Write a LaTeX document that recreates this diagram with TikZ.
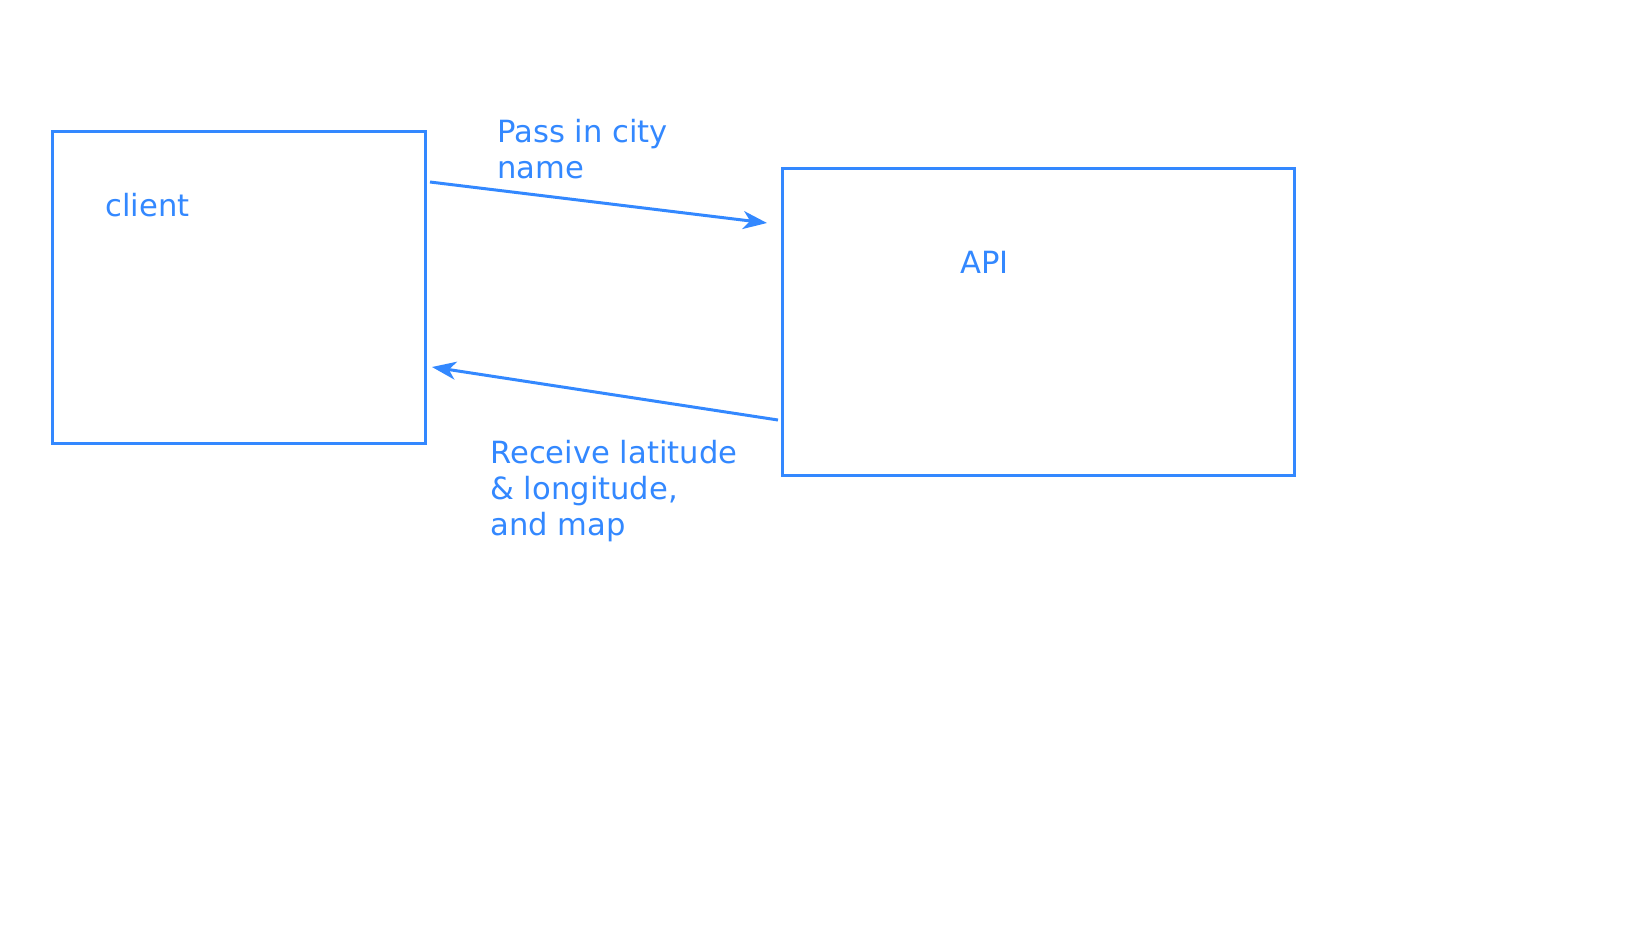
\documentclass[tikz,border=0pt]{standalone}
\usepackage{fontspec}
\setmainfont{DejaVu Sans}
\usetikzlibrary{arrows.meta}
\definecolor{blu}{RGB}{51,136,255}
\begin{document}
\begin{tikzpicture}[x=0.5pt,y=-0.5pt,
  boxstyle/.style={draw=blu,line width=1.5pt},
  lbl/.style={text=blu,font=\fontsize{15.3pt}{18pt}\selectfont,anchor=west,align=left,inner sep=0pt},
  conn/.style={draw=blu,line width=1.5pt,-{Stealth[length=12pt,width=9pt,inset=3.5pt]}}]
\useasboundingbox (0,0) rectangle (1648,927);
\draw[boxstyle] (52.6,131.4) rectangle (425.7,443.5);
\draw[boxstyle] (782,168) rectangle (1294,475);
\node[lbl] (client) at (105,205) {client};
\node[lbl] (api) at (960,262) {API};
\node[lbl] (l1) at (497,149) {Pass in city\\name};
\node[lbl] (l2) at (490,491) {Receive latitude\\\& longitude,\\and map};
\coordinate (a1s) at (430,182);
\coordinate (a1e) at (767,223);
\coordinate (a2s) at (778,420);
\coordinate (a2e) at (432,367);
\draw[conn] (a1s) -- (a1e);
\draw[conn] (a2s) -- (a2e);
\end{tikzpicture}
\end{document}
